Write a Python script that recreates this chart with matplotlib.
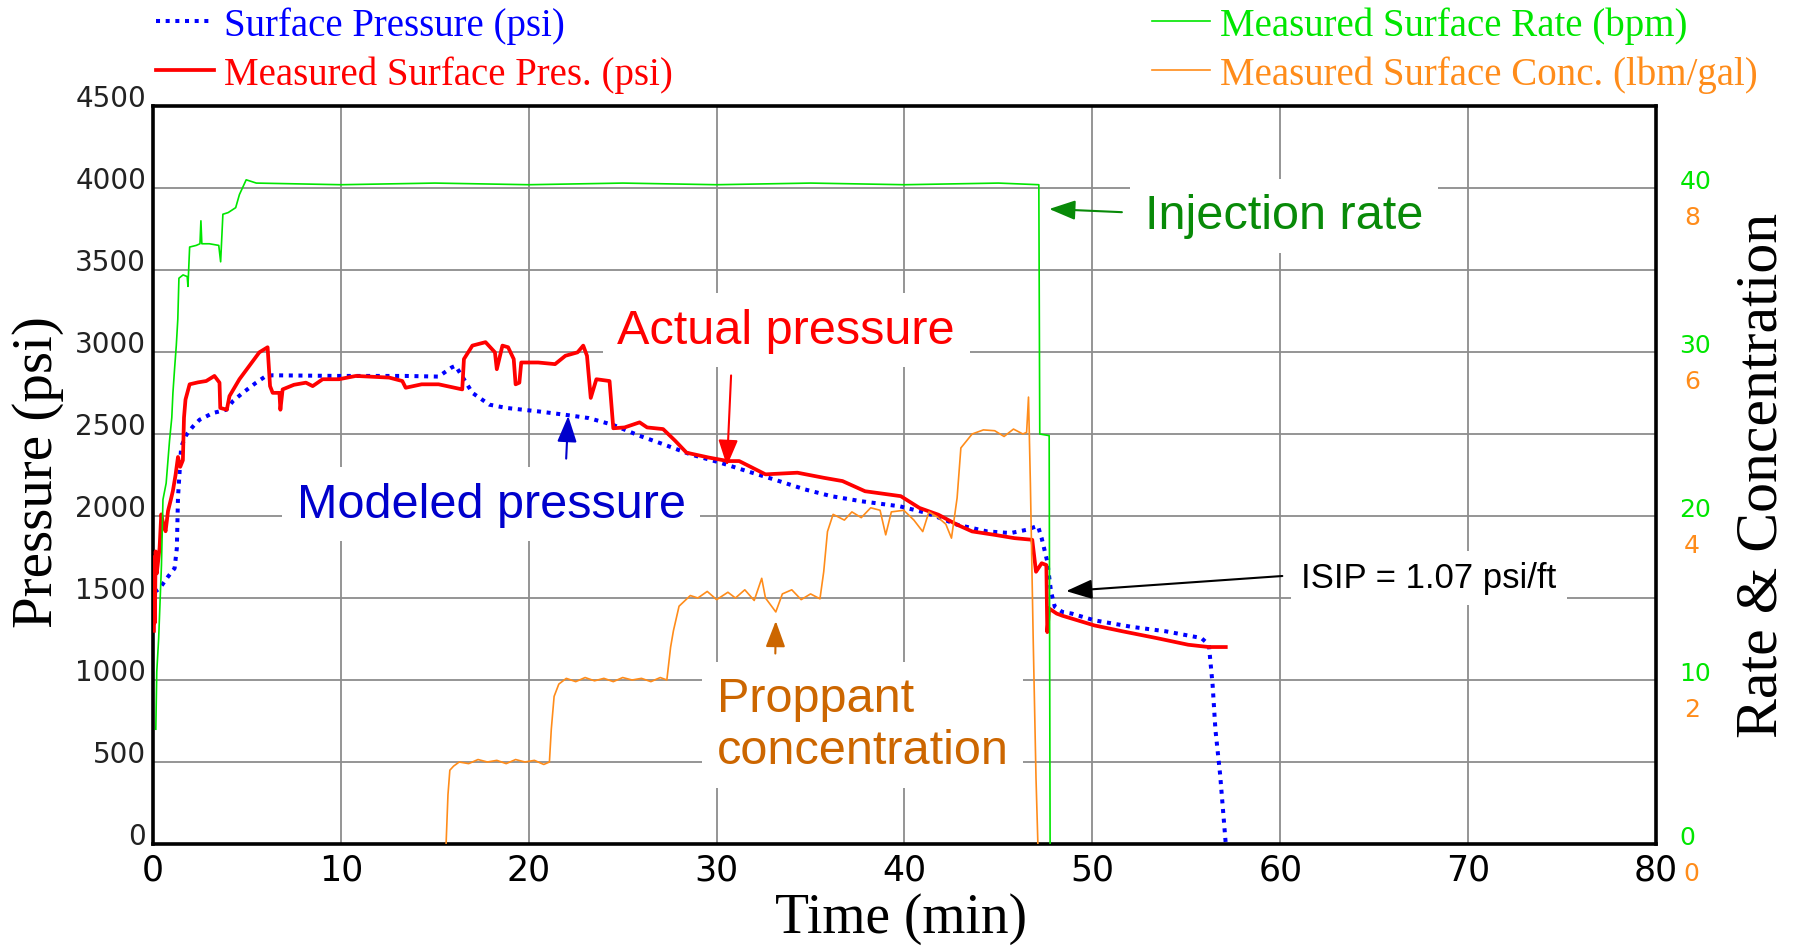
import numpy as np
import matplotlib.pyplot as plt
from matplotlib.transforms import ScaledTranslation

# measured injection rate (bpm)
rate_t = [0.15, 0.2, 0.3, 0.45, 0.53, 0.7, 0.88, 1.0, 1.06, 1.15, 1.24, 1.32, 1.38, 1.6, 1.82, 1.86,
          1.95, 2.3, 2.5, 2.55, 2.6, 3.0, 3.5, 3.6, 3.72, 4.0, 4.4, 4.6, 4.96, 5.5, 10, 15, 20, 25,
          30, 35, 40, 45, 47.15, 47.2, 47.7, 47.75]
rate_v = [7.0, 10.5, 12.5, 17, 21, 22, 24.6, 26, 27.5, 29, 30.4, 32, 34.5, 34.7, 34.6, 34.0,
          36.4, 36.5, 36.6, 38.0, 36.6, 36.6, 36.5, 35.5, 38.4, 38.5, 38.8, 39.6, 40.5, 40.3, 40.2, 40.3, 40.2, 40.3,
          40.2, 40.3, 40.2, 40.3, 40.2, 25.0, 24.9, 0]

# measured surface pressure (psi)
meas_t = [0.05, 0.08, 0.1, 0.14, 0.2, 0.35, 0.44, 0.55, 0.67, 0.8, 0.95, 1.06, 1.2, 1.33, 1.45, 1.59,
          1.65, 1.73, 1.95, 2.4, 2.83, 3.27, 3.54, 3.58, 3.93, 4.07, 4.6, 5.13, 5.66, 6.1, 6.23, 6.37,
          6.73, 6.78, 6.9, 7.5, 8.14, 8.5, 9.03, 9.9, 10.8, 12.57, 13.27, 13.45, 14.3, 15.2, 16.46,
          16.55, 17.0, 17.7, 18.2, 18.3, 18.6, 18.9, 19.2, 19.3, 19.5, 19.6, 20.5, 21.4, 21.95, 22.6,
          22.9, 23.1, 23.3, 23.6, 24.3, 24.5, 25.1, 25.9, 26.3, 27.15, 27.8, 28.4, 29.6, 30.6, 31.2,
          32.6, 34.3, 35.7, 36.7, 37.9, 39.8, 40.8, 41.8, 42.8, 43.6, 44.8, 45.85, 46.8, 47.0, 47.3,
          47.55, 47.6, 47.7, 48.1, 48.4, 50.1, 51.6, 53.4, 55.1, 56.2, 57.1]
meas_p = [1300, 1750, 1350, 1784, 1650, 1805, 2010, 1950, 1907, 2031, 2100, 2154, 2250, 2360, 2300, 2340,
          2600, 2710, 2803, 2815, 2823, 2854, 2813, 2659, 2648, 2731, 2834, 2916, 2998, 3029, 2792, 2751,
          2751, 2648, 2772, 2800, 2813, 2792, 2834, 2834, 2854, 2844, 2823, 2782, 2803, 2803, 2772,
          2957, 3039, 3060, 2998, 2895, 3039, 3029, 2957, 2803, 2813, 2936, 2936, 2926, 2977, 2998,
          3039, 2977, 2720, 2834, 2823, 2535, 2540, 2571, 2540, 2530, 2458, 2386, 2356, 2335, 2335,
          2254, 2264, 2233, 2213, 2151, 2121, 2049, 2008, 1947, 1906, 1885, 1865, 1855, 1660, 1712,
          1701, 1292, 1436, 1405, 1392, 1333, 1297, 1256, 1215, 1201, 1201]

# modeled surface pressure (psi)
model_t = [0.09, 0.35, 0.8, 1.15, 1.27, 1.33, 1.5, 1.77, 2.12, 2.48, 3.19, 3.9, 4.25, 4.78, 5.49, 6.02,
           6.37, 9.9, 13.45, 15.2, 15.9, 16.1, 16.55, 17.0, 17.9, 18.8, 20.5, 21.95, 23.2, 24.5, 25.9,
           27.15, 28.6, 30.2, 31.6, 33.05, 34.7, 36.1, 37.7, 39.75, 41.2, 42.8, 44.4, 45.65, 46.5, 47.1,
           47.3, 47.6, 47.8, 48.0, 48.4, 48.9, 50.1, 52.1, 53.9, 55.8, 56.2, 56.4, 56.55, 56.8, 57.1]
model_p = [1537, 1558, 1630, 1681, 1805, 2113, 2422, 2494, 2545, 2587, 2628, 2648, 2700, 2751, 2813, 2854,
           2858, 2854, 2854, 2850, 2906, 2916, 2834, 2751, 2679, 2659, 2638, 2617, 2597, 2555, 2489,
           2438, 2376, 2325, 2274, 2223, 2162, 2121, 2090, 2059, 2018, 1947, 1906, 1896, 1916, 1940,
           1865, 1722, 1538, 1446, 1415, 1405, 1364, 1324, 1297, 1256, 1215, 969, 696, 423, 0]

# measured proppant concentration (lbm/gal)
conc_t = [15.6, 15.7, 15.8, 16.0, 16.3, 16.8, 17.3, 17.8, 18.3, 18.8, 19.3, 19.8, 20.3, 20.8, 21.1,
          21.2, 21.35, 21.6, 22.0, 22.5, 23.0, 23.5, 24.0, 24.5, 25.0, 25.5, 26.0, 26.5, 27.0, 27.35,
          27.55, 27.7, 28.0, 28.6, 29.0, 29.5, 30.0, 30.6, 31.0, 31.5, 32.0, 32.4, 32.6, 33.15, 33.5,
          34.0, 34.5, 35.0, 35.5, 35.7, 35.9, 36.2, 36.8, 37.2, 37.7, 38.2, 38.7, 39.0, 39.3, 39.96,
          40.5, 40.97, 41.3, 41.8, 42.2, 42.5, 42.8, 43.0, 43.6, 44.2, 44.8, 45.3, 45.8, 46.3, 46.5,
          46.6, 46.7, 46.85, 47.0, 47.1]
conc_v = [0, 0.6, 0.9, 0.95, 1.0, 0.98, 1.03, 1.0, 1.02, 0.98, 1.03, 1.0, 1.02, 0.97, 1.0,
          1.4, 1.8, 1.95, 2.02, 1.98, 2.03, 1.99, 2.02, 1.98, 2.03, 2.0, 2.02, 1.98, 2.03, 2.0,
          2.4, 2.6, 2.9, 3.03, 3.0, 3.08, 2.98, 3.07, 3.0, 3.1, 2.97, 3.24, 3.0, 2.83, 3.05,
          3.1, 2.98, 3.05, 2.99, 3.32, 3.81, 4.02, 3.95, 4.05, 3.98, 4.1, 4.07, 3.77, 4.05, 4.07,
          3.95, 3.81, 4.05, 3.98, 3.9, 3.73, 4.22, 4.83, 5.0, 5.05, 5.04, 4.97, 5.06, 5.0, 5.02,
          5.45, 4.4, 2.5, 0.8, 0]

x_ticks = [0, 10, 20, 30, 40, 50, 60, 70, 80]
p_ticks = [0, 500, 1000, 1500, 2000, 2500, 3000, 3500, 4000, 4500]
rate_ticks = [0, 10, 20, 30, 40]
conc_ticks = [0, 2, 4, 6, 8]

BLUE = '#0000ff'
RED = '#ff0000'
GREEN = '#00e600'
ORANGE = '#ff8c1a'

fig = plt.figure(figsize=(18.07, 9.53), dpi=100)
ax = fig.add_axes([153 / 1807, 108 / 953, 1503 / 1807, 738 / 953])
ax.set_xlim(0, 80)
ax.set_ylim(0, 4500)
ax.set_xticks(x_ticks)
ax.set_yticks(p_ticks)
ax.grid(True, color='#8c8c8c', lw=1.3)
ax.set_axisbelow(True)
for s in ax.spines.values():
    s.set_linewidth(2.6)
    s.set_color('black')

ax_r = ax.twinx()
ax_r.set_ylim(0, 45)
ax_c = ax.twinx()
ax_c.set_ylim(0, 9)

l_blue, = ax.plot(model_t, model_p, color=BLUE, lw=2.9, linestyle=(0, (1, 1.4)), zorder=3,
                  label='Surface Pressure (psi)')
l_red, = ax.plot(meas_t, meas_p, color=RED, lw=2.7, zorder=4, label='Measured Surface Pres. (psi)')
l_green, = ax_r.plot(rate_t, rate_v, color=GREEN, lw=1.2, label='Measured Surface Rate (bpm)')
l_orange, = ax_c.plot(conc_t, conc_v, color=ORANGE, lw=1.2, label='Measured Surface Conc. (lbm/gal)')

# tick labels
ax.tick_params(axis='both', length=0)
ax.tick_params(axis='y', labelsize=20, labelcolor='#222222', pad=5)
ax.tick_params(axis='x', labelsize=25, labelcolor='black', pad=6)
for lbl in ax.get_yticklabels():
    lbl.set_verticalalignment('baseline')
for lbl in ax.get_xticklabels():
    lbl.set_family(['Liberation Sans Narrow', 'DejaVu Sans'])

ax_r.set_yticks(rate_ticks)
ax_r.tick_params(axis='y', length=0, labelsize=18, labelcolor=GREEN, pad=17)
for lbl in ax_r.get_yticklabels():
    lbl.set_verticalalignment('baseline')

ax_c.set_yticks(conc_ticks)
ax_c.tick_params(axis='y', length=0, labelsize=18, labelcolor=ORANGE, pad=20)
for lbl in ax_c.get_yticklabels():
    lbl.set_verticalalignment('center')
    lbl.set_transform(lbl.get_transform() + ScaledTranslation(0, -0.29, fig.dpi_scale_trans))
for a in (ax_r, ax_c):
    for s in a.spines.values():
        s.set_visible(False)

# axis titles
serif = 'Liberation Serif'
ax.set_ylabel('Pressure (psi)', family=serif, fontsize=41, va='center')
ax.yaxis.set_label_coords(-0.0765, 0.505)
ax.set_xlabel('Time (min)', family=serif, fontsize=40, va='center')
ax.xaxis.set_label_coords(0.498, -0.1)
ax_c.set_ylabel('Rate & Concentration', family=serif, fontsize=43, va='center', rotation=90)
ax_c.yaxis.set_label_coords(1.071, 0.501)

# legends
leg_kw = dict(frameon=False, prop={'family': serif, 'size': 28}, labelcolor='linecolor',
              handlelength=1.5, handletextpad=0.25, labelspacing=0.3, borderpad=0,
              borderaxespad=0, loc='upper left')
fig.legend(handles=[l_blue, l_red], bbox_to_anchor=(156 / 1807, 1 - 7 / 953), **leg_kw)
fig.legend(handles=[l_green, l_orange], bbox_to_anchor=(1152 / 1807, 1 - 7 / 953), **leg_kw)

# annotations
box = dict(boxstyle='square,pad=0.3', fc='white', ec='none')


def note(text, tip, pos, color, size, relpos, ha='center'):
    ax.annotate(text, xy=tip, xytext=pos, color=color, fontsize=size, family='Liberation Sans',
                ha=ha, va='center', bbox=box, zorder=10,
                arrowprops=dict(arrowstyle='-|>,head_length=0.8,head_width=0.3', color=color, lw=1.5,
                                mutation_scale=20, relpos=relpos, shrinkA=6, shrinkB=0))


note('Injection rate', (47.7, 3872), (60.2, 3830), '#088a08', 35, (0, 0.56))
note('Actual pressure', (30.55, 2305), (33.7, 3134), RED, 35, (0.34, 0))
note('Modeled pressure', (22.1, 2610), (18.0, 2073), '#0000cc', 35, (0.69, 1))
note('Proppant\nconcentration', (33.15, 1360), (30.0, 726), '#cc6600', 35, (0.2, 1), ha='left')
note('ISIP = 1.07 psi/ft', (48.6, 1542), (67.9, 1622), 'black', 25, (0, 0.6))

fig.savefig('out.png', dpi=100)
